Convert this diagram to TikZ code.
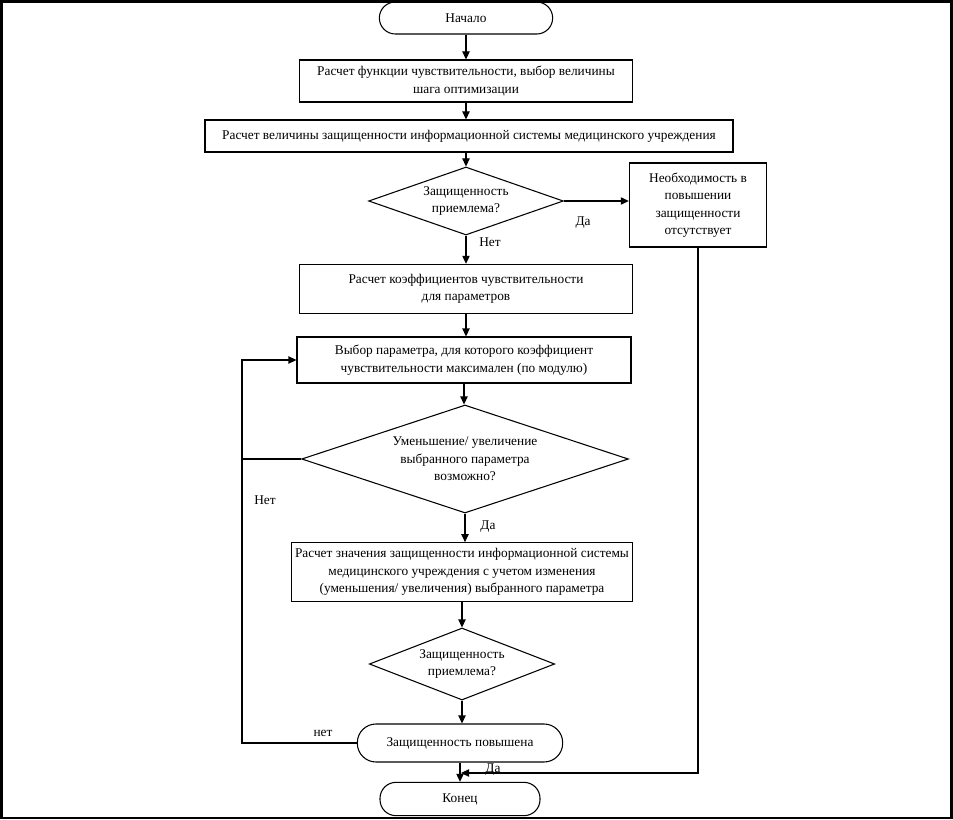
\documentclass[tikz,border=0pt]{standalone}
\usepackage{fontspec}
\setmainfont{Liberation Serif}
\usetikzlibrary{arrows.meta,shapes.geometric}
\tikzset{
  block/.style={draw,rectangle,align=center,inner sep=2pt,line width=0.8pt},
  decision/.style={draw,diamond,aspect=3,inner sep=0pt,align=center,line width=0.8pt},
  terminal/.style={draw,rectangle,rounded corners=12pt,align=center,line width=0.8pt},
  arr/.style={line width=0.8pt,-{Triangle[length=6pt,width=5.5pt]}},
  conn/.style={line width=0.8pt},
  lbl/.style={inner sep=1pt}
}

\begin{document}
\begin{tikzpicture}[x=0.75pt,y=-0.75pt,font=\fontsize{10}{13}\selectfont]
  \useasboundingbox (0,0) rectangle (953,820);
  \draw[line width=2.2pt] (1.5,1.5) rectangle (951.5,818);
  % blocks
  \node[terminal,minimum width=130pt,minimum height=24pt] (start) at (466,18) {Начало};
  \node[block,minimum width=250pt,minimum height=31.5pt] (sens) at (466,81) {Расчет функции чувствительности, выбор величины\\шага оптимизации};
  \node[block,minimum width=396pt,minimum height=24pt] (secur) at (469,136) {Расчет величины защищенности информационной системы медицинского учреждения};
  \node[decision,minimum width=146pt,minimum height=51pt] (check) at (466,201) {Защищенность\\приемлема?};
  \node[block,minimum width=103pt,minimum height=63pt] (noneed) at (698,205) {Необходимость в\\повышении\\защищенности\\отсутствует};
  \node[block,minimum width=250pt,minimum height=37pt] (coef) at (466,289) {Расчет коэффициентов чувствительности\\для параметров};
  \node[block,minimum width=250.5pt,minimum height=34.5pt] (choose) at (464,360) {Выбор параметра, для которого коэффициент\\чувствительности максимален (по модулю)};
  \node[decision,minimum width=245pt,minimum height=81pt] (possible) at (465,459) {Уменьшение/ увеличение\\выбранного параметра\\возможно?};
  \node[block,minimum width=256pt,minimum height=44pt] (recalc) at (462,572) {Расчет значения защищенности информационной системы\\медицинского учреждения с учетом изменения\\(уменьшения/ увеличения) выбранного параметра};
  \node[decision,minimum width=139pt,minimum height=54pt] (check2) at (462,664) {Защищенность\\приемлема?};
  \node[terminal,rounded corners=14pt,minimum width=154pt,minimum height=28.5pt] (up) at (460,743) {Защищенность повышена};
  \node[terminal,minimum width=120pt,minimum height=25pt] (finish) at (460,799) {Конец};
  % labels
  \node[lbl] (yes1) at (583,223) {Да};
  \node[lbl] (no1) at (490,242) {Нет};
  \node[lbl] (no2) at (265,500) {Нет};
  \node[lbl] (yes2) at (488,527) {Да};
  \node[lbl] (no3) at (323,733) {нет};
  \node[lbl] (yes3) at (493,770) {Да};
  \coordinate (loop) at (242,459);
  \coordinate (join) at (461,773);
  % connectors
  \draw[arr] (start.south) -- (start.south |- sens.north);
  \draw[arr] (sens.south) -- (sens.south |- secur.north);
  \draw[arr] (check.north |- secur.south) -- (check.north);
  \draw[arr] (check.east) -- (check.east -| noneed.west);
  \draw[arr] (check.south) -- (check.south |- coef.north);
  \draw[arr] (coef.south) -- (coef.south |- choose.north);
  \draw[arr] (choose.south) -- (choose.south |- possible.north);
  \draw[arr] (possible.south) -- (possible.south |- recalc.north);
  \draw[arr] (recalc.south) -- (recalc.south |- check2.north);
  \draw[arr] (check2.south) -- (check2.south |- up.north);
  \draw[arr] (up.south) -- (finish.north);
  \draw[conn] (possible.west) -- (possible.west -| loop);
  \draw[arr] (up.west) -| (loop) |- (choose.west);
  \draw[arr] (noneed.south) |- (join);
\end{tikzpicture}
\end{document}
